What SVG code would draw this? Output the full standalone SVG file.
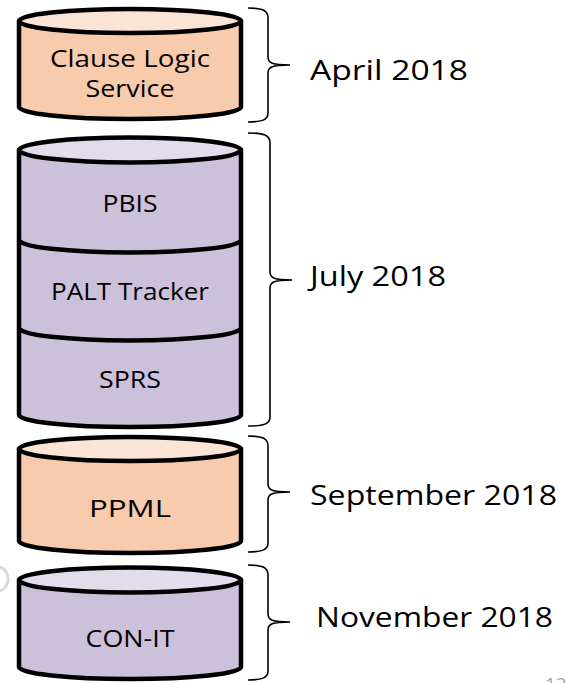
<svg xmlns="http://www.w3.org/2000/svg" width="575" height="683" viewBox="0 0 575 683">
<style>
.cyl{stroke:#000;stroke-width:4.5;stroke-linejoin:round}
.org{fill:#f8cbad}.orgt{fill:#fbe4d5}
.pur{fill:#ccc1da}.purt{fill:#e2dcec}
.div{fill:none;stroke:#000;stroke-width:4.5}
.br{fill:none;stroke:#000;stroke-width:1.6}
.t{font-family:"Open Sans","Liberation Sans",sans-serif;font-size:23px;fill:#000;text-anchor:middle}
.lab{font-family:"Open Sans","Liberation Sans",sans-serif;font-size:27px;fill:#000}
</style>
<rect width="575" height="683" fill="#fff"/>
<path d="M0,567 A13 13 0 0 1 0,591" fill="none" stroke="#d9d9d9" stroke-width="3"/>
<g id="clause-logic">
<path class="cyl org" d="M19,21 L19,107 A111 12 0 0 0 241,107 L241,21 Z"/>
<ellipse class="cyl orgt" cx="130" cy="21" rx="111" ry="12"/>
<text class="t" x="130" y="67" textLength="160" lengthAdjust="spacingAndGlyphs">Clause Logic</text>
<text class="t" x="130" y="97" textLength="89" lengthAdjust="spacingAndGlyphs">Service</text>
</g>
<g id="july-stack">
<path class="cyl pur" d="M19,150 L19,415 A111 12 0 0 0 241,415 L241,150 Z"/>
<ellipse class="cyl purt" cx="130" cy="150" rx="111" ry="12.5"/>
<path class="div" d="M19,240 A111 12.5 0 0 0 241,240"/>
<path class="div" d="M19,328 A111 12.5 0 0 0 241,328"/>
<text class="t" x="130" y="212" textLength="55" lengthAdjust="spacingAndGlyphs">PBIS</text>
<text class="t" x="130" y="300" textLength="158" lengthAdjust="spacingAndGlyphs">PALT Tracker</text>
<text class="t" x="130" y="388" textLength="62" lengthAdjust="spacingAndGlyphs">SPRS</text>
</g>
<g id="ppml">
<path class="cyl org" d="M19,449 L19,541 A111 12 0 0 0 241,541 L241,449 Z"/>
<ellipse class="cyl orgt" cx="130" cy="449" rx="111" ry="12"/>
<text class="t" x="130" y="517" textLength="82" lengthAdjust="spacingAndGlyphs">PPML</text>
</g>
<g id="con-it">
<path class="cyl pur" d="M19,580 L19,667 A111 12 0 0 0 241,667 L241,580 Z"/>
<ellipse class="cyl purt" cx="130" cy="580" rx="111" ry="12.5"/>
<text class="t" x="130" y="647" textLength="89" lengthAdjust="spacingAndGlyphs">CON-IT</text>
</g>
<g id="brackets">
<path class="br" d="M248,8 C262,8 268,10 268,18 L268,57 C268,63 272,65 290,65 C272,65 268,67 268,73 L268,113 C268,120 262,122 248,122"/>
<path class="br" d="M248,133 C264,133 270,135 270,143 L270,272 C270,278 274,280 292,280 C274,280 270,282 270,288 L270,417 C270,424 264,426 248,426"/>
<path class="br" d="M248,436 C262,436 268,438 268,446 L268,484 C268,490 272,492 290,492 C272,492 268,494 268,500 L268,543 C268,550 262,552 248,552"/>
<path class="br" d="M248,565 C262,565 268,567 268,575 L268,614 C268,620 272,622 290,622 C272,622 268,624 268,630 L268,671 C268,678 262,680 248,680"/>
</g>
<g id="labels">
<text class="lab" x="310" y="80" textLength="158" lengthAdjust="spacingAndGlyphs">April 2018</text>
<text class="lab" x="310" y="286" textLength="136" lengthAdjust="spacingAndGlyphs">July 2018</text>
<text class="lab" x="310" y="505" textLength="247" lengthAdjust="spacingAndGlyphs">September 2018</text>
<text class="lab" x="316" y="627" textLength="237" lengthAdjust="spacingAndGlyphs">November 2018</text>
<text x="545" y="691" font-family="Open Sans, Liberation Sans, sans-serif" font-size="19" fill="#a6a6a6">12</text>
</g>
</svg>
